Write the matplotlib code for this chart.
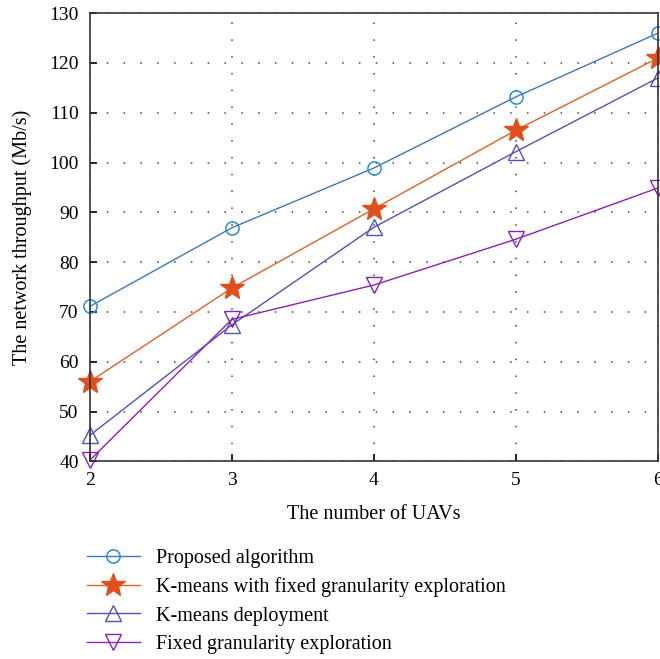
import matplotlib.pyplot as plt
import numpy as np

plt.rcParams['font.family'] = ['Liberation Serif', 'DejaVu Serif']

# data
num_uavs = [2, 3, 4, 5, 6]
proposed = [71.1, 86.9, 98.9, 113.2, 126.0]
kmeans_fixed = [56.0, 74.8, 90.7, 106.5, 121.0]
kmeans_deploy = [45.2, 67.4, 87.0, 102.2, 117.0]
fixed_gran = [40.2, 68.5, 75.4, 84.6, 94.9]

labels = ['Proposed algorithm',
          'K-means with fixed granularity exploration',
          'K-means deployment',
          'Fixed granularity exploration']

fig = plt.figure(figsize=(6.6, 6.59), dpi=100)
ax = fig.add_axes([0.136, 0.300, 0.861, 0.680])

ax.plot(num_uavs, proposed, color='#3b76c4', lw=1.0, marker='o', ms=9.5,
        mfc='none', mec='#2e8ad0', mew=1.1, label=labels[0], clip_on=False)
ax.plot(num_uavs, kmeans_fixed, color='#e2601f', lw=1.0, marker='*', ms=18,
        mfc='#e0501e', mec='#e0501e', label=labels[1], clip_on=False)
ax.plot(num_uavs, kmeans_deploy, color='#5151b9', lw=1.0, marker='^', ms=11,
        mfc='none', mec='#5151b9', mew=1.0, label=labels[2], clip_on=False)
ax.plot(num_uavs, fixed_gran, color='#8a22b4', lw=1.0, marker='v', ms=11,
        mfc='none', mec='#8a22b4', mew=1.0, label=labels[3], clip_on=False)

ax.set_xlim(2, 6)
ax.set_ylim(40, 130)
ax.set_xticks(num_uavs)
ax.set_yticks(np.arange(40, 131, 10))
ax.grid(True, color='#444444', linestyle=(0, (1, 10)), linewidth=1.1)
ax.tick_params(direction='in', labelsize=14, length=5, width=1.2, pad=8)
for s in ax.spines.values():
    s.set_linewidth(1.2)
    s.set_color('#333333')

ax.set_xlabel('The number of UAVs', fontsize=14.5, labelpad=11)
ax.set_ylabel('The network throughput (Mb/s)', fontsize=14.5, labelpad=12)

fig.legend(loc='upper left', bbox_to_anchor=(0.117, 0.183), frameon=False,
           fontsize=14.5, handlelength=2.6, labelspacing=0.47, handletextpad=0.8,
           borderpad=0)

fig.savefig('out.png', dpi=100)
